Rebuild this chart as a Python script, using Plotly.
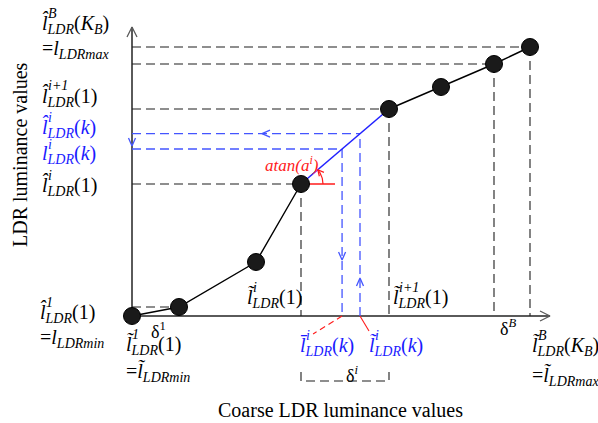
import math
import plotly.graph_objects as go

# ---------------- data (coarse value, LDR value) ----------------
coarse_x = [0, 47, 124, 169, 257, 309, 362, 398]
ldr_y = [0, 9, 54, 132, 207, 229, 252, 269]
guide_idx = [1, 3, 4, 6, 7]       # points with dashed projections
seg_i = 3                          # segment i (blue) = points 3..4
x_tilde_k = 228                    # coarse value l~^i(k)
y_i_k = 167                        # value l^i(k)
x_axis_end = 418
y_axis_end = 289

W, H = 598, 423
OX, OY = 132, 316                  # pixel position of origin

FONT = "Liberation Serif"
BLUE = "#1a1aff"
LBLUE = "#4455ff"
RED = "#ff1a1a"
GREY = "#5a5a5a"
DGREY = "#1e1e1e"

fig = go.Figure()


def line(xs, ys, color, width=1.2, dash=None):
    fig.add_trace(go.Scatter(x=xs, y=ys, mode="lines", hoverinfo="skip",
                             line=dict(color=color, width=width, dash=dash),
                             showlegend=False))


def chevron(tx, ty, direction, color, width=1.2, L=8, S=4):
    dx, dy = {"up": (0, 1), "down": (0, -1), "left": (-1, 0), "right": (1, 0)}[direction]
    px, py = -dy, dx
    xs = [tx - dx * L + px * S, tx, tx - dx * L - px * S]
    ys = [ty - dy * L + py * S, ty, ty - dy * L - py * S]
    line(xs, ys, color, width)


# axes
line([0, 0], [0, y_axis_end], GREY, 2)
line([0, x_axis_end], [0, 0], GREY, 2)
chevron(0, y_axis_end, "up", GREY, 1.3, 10, 5)
chevron(x_axis_end, 0, "right", GREY, 1.3, 10, 5)

# dashed projections
for i in guide_idx:
    line([0, coarse_x[i]], [ldr_y[i], ldr_y[i]], DGREY, 1.1, "9px,5px")
    line([coarse_x[i], coarse_x[i]], [ldr_y[i], 0], DGREY, 1.1, "9px,5px")

# blue construction
x0, x1 = coarse_x[seg_i], coarse_x[seg_i + 1]
y0, y1 = ldr_y[seg_i], ldr_y[seg_i + 1]
slope = (y1 - y0) / (x1 - x0)
y_hat = y0 + slope * (x_tilde_k - x0)
x_bar = x0 + (y_i_k - y0) / slope

line([x_tilde_k, x_tilde_k], [0, y_hat], LBLUE, 1.3, "9px,5px")
line([0, x_tilde_k], [y_hat, y_hat], LBLUE, 1.3, "9px,5px")
line([0, x_bar], [y_i_k, y_i_k], LBLUE, 1.3, "9px,5px")
line([x_bar, x_bar], [y_i_k, 0], LBLUE, 1.3, "9px,5px")
chevron(x_tilde_k, 38, "up", LBLUE, 1.3, 8, 3.5)
chevron(130, y_hat, "left", LBLUE, 1.3, 8, 3.5)
chevron(0, 170, "down", LBLUE, 1.3, 8, 3.5)
chevron(x_bar, 56, "down", LBLUE, 1.3, 8, 3.5)

# curve
line(coarse_x[:seg_i + 1], ldr_y[:seg_i + 1], "black", 1.4)
line([x0, x1], [y0, y1], "#2222ff", 1.6)
line(coarse_x[seg_i + 1:], ldr_y[seg_i + 1:], "black", 1.4)

# red angle
line([x0, x0 + 34], [y0, y0], RED, 1.4)
ang = math.atan(slope)
R = 22
n = 20
arc_x = [x0 + R * math.cos(ang * k / n) for k in range(n + 1)]
arc_y = [y0 + R * math.sin(ang * k / n) for k in range(n + 1)]
line(arc_x, arc_y, RED, 1.2)
tx, ty = arc_x[-1], arc_y[-1]
tdx, tdy = -math.sin(ang), math.cos(ang)
pxv, pyv = -tdy, tdx
Lh, Sh = 6, 3
line([tx - tdx * Lh + pxv * Sh, tx, tx - tdx * Lh - pxv * Sh],
     [ty - tdy * Lh + pyv * Sh, ty, ty - tdy * Lh - pyv * Sh], RED, 1.2)

# red connectors to labels
line([x_bar, x_bar - 29], [0, -18], RED, 1.1, "6px,4px")
line([x_tilde_k, x_tilde_k + 9], [0, -15], RED, 1.1)

# delta^i bracket
line([x0, x0, x1, x1], [-56, -65, -65, -56], DGREY, 1.1, "9px,5px")

# dots
fig.add_trace(go.Scatter(x=coarse_x, y=ldr_y, mode="markers", hoverinfo="skip",
                         marker=dict(size=17, color="#1a1a1a",
                                     line=dict(color="black", width=1)),
                         showlegend=False))

# ---------------- text ----------------
anns = []


def text(px, py, t, size=20, color="black", xanchor="left", angle=0):
    anns.append(dict(x=px / W, y=1 - py / H, xref="paper", yref="paper",
                     text=t, showarrow=False, xanchor=xanchor, yanchor="middle",
                     textangle=angle, font=dict(family=FONT, size=size, color=color)))


def mlabel(px, py, base, sub, sup=None, tail="", color="black", size=20, supdx=6, supdy=11):
    text(px, py, f"{base}<sub><i>{sub}</i></sub>{tail}", size, color)
    if sup:
        text(px + supdx, py - supdy, f"<i>{sup}</i>", 14, color)


HAT = "<i>l\u0302</i>"
TIL = "<i>l\u0303</i>"
BAR = "<i>l\u0304</i>"
PL = "<i>l</i>"
KB = "(<i>K</i><sub><i>B</i></sub>)"
K = "(<i>k</i>)"

# left labels
mlabel(40, 24, HAT, "LDR", "B", KB)
mlabel(40, 49, "=" + PL, "LDRmax")
mlabel(40, 97, HAT, "LDR", "i+1", "(1)")
mlabel(40, 128, HAT, "LDR", "i", K, BLUE)
mlabel(40, 154, PL, "LDR", "i", K, BLUE, supdy=10)
mlabel(40, 186, HAT, "LDR", "i", "(1)")
mlabel(38, 313, HAT, "LDR", "1", "(1)")
mlabel(38, 338, "=" + PL, "LDRmin")

# bottom labels
mlabel(124, 345, TIL, "LDR", "1", "(1)")
mlabel(124, 372, "=" + TIL, "LDRmin")
mlabel(245, 298, TIL, "LDR", "i", "(1)")
mlabel(391, 298, TIL, "LDR", "i+1", "(1)")
mlabel(298, 346, BAR, "LDR", "i", K, BLUE)
mlabel(367, 346, TIL, "LDR", "i", K, BLUE)
mlabel(530, 346, TIL, "LDR", "B", KB)
mlabel(530, 376, "=" + TIL, "LDRmax")

# deltas
text(158, 330, "\u03b4<sup>1</sup>", 18, xanchor="center")
text(352, 374, "\u03b4<sup><i>i</i></sup>", 18, xanchor="center")
text(508, 327, "\u03b4<sup><i>B</i></sup>", 18, xanchor="center")

# angle label
text(292, 164, "<i>atan(a<sup>i</sup>)</i>", 17, RED, xanchor="center")

# axis titles
text(340, 410, "Coarse LDR luminance values", 20, xanchor="center")
text(20, 155, "LDR luminance values", 20, xanchor="center", angle=-90)

fig.update_layout(
    width=W, height=H, margin=dict(l=0, r=0, t=0, b=0),
    paper_bgcolor="white", plot_bgcolor="white",
    font=dict(family=FONT),
    xaxis=dict(range=[-OX, W - OX], visible=False, fixedrange=True),
    yaxis=dict(range=[OY - H, OY], visible=False, fixedrange=True),
    annotations=anns, showlegend=False,
)

fig.write_html("out.html", config={"displayModeBar": False},
               post_script="document.body.style.margin='0px';document.body.style.overflow='hidden';")
